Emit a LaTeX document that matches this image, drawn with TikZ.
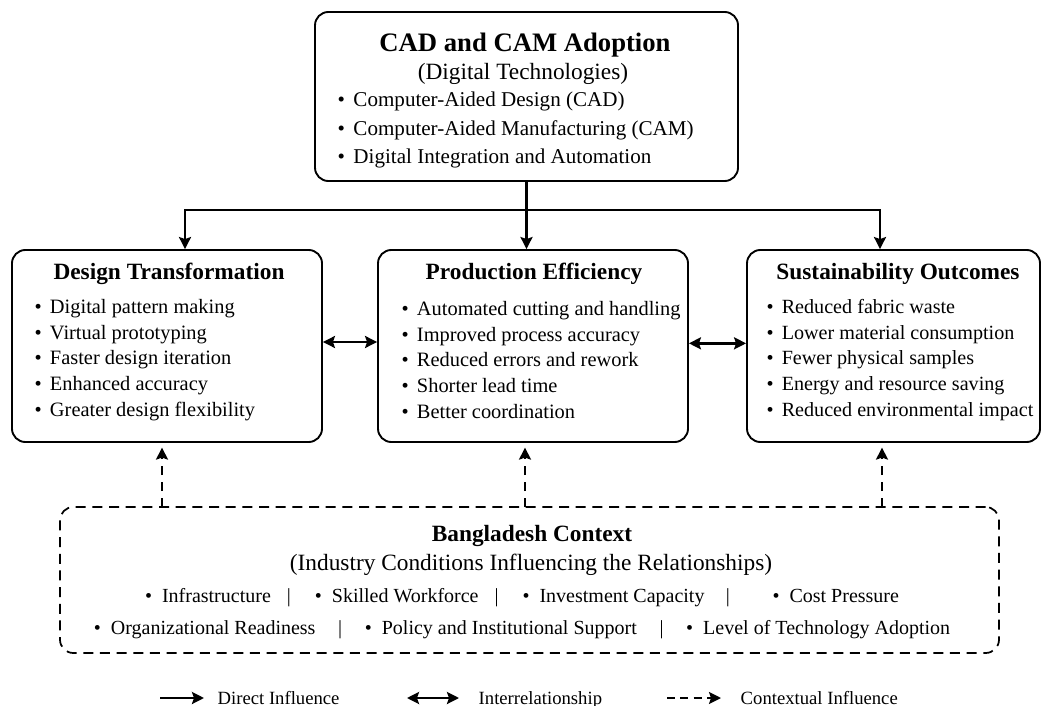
\documentclass[tikz,border=0pt]{standalone}
\usepackage{fontspec}
\setmainfont{Liberation Serif}
\usetikzlibrary{arrows.meta}
\usetikzlibrary{positioning}
\tikzstyle{block}=[draw,rounded corners=10pt,line width=1.4pt,inner sep=0pt]
\tikzstyle{ctxblock}=[block,line width=1.3pt,dash pattern=on 7.5pt off 5pt]
\tikzstyle{head}=[font=\fontsize{17.5}{21}\selectfont\bfseries]
\tikzstyle{items}=[align=left,anchor=west,font=\fontsize{15.3}{19.4}\selectfont]
\tikzstyle{direct}=[line width=1.8pt,-{Stealth[length=9pt,width=9pt,inset=1.5pt]}]
\tikzstyle{both}=[line width=1.8pt,{Stealth[length=9pt,width=9pt,inset=1.5pt]}-{Stealth[length=9pt,width=9pt,inset=1.5pt]}]
\tikzstyle{ctxarrow}=[line width=1.5pt,dash pattern=on 7pt off 5pt,-{Stealth[length=9pt,width=9pt,inset=1.5pt]}]
\newcommand{\bul}{\textbullet\hspace{0.4em}}

\begin{document}
\begin{tikzpicture}[x=0.75pt,y=-0.75pt]
	\useasboundingbox[fill=white] (0,0) rectangle (1042,706);
	% boxes
	\node[block,minimum width=317.25pt,minimum height=126.75pt] (cad) at (526.5,96.5) {};
	\node[block,minimum width=232.5pt,minimum height=144pt] (design) at (167,346) {};
	\node[block,minimum width=232.5pt,minimum height=144pt] (prod) at (533,346) {};
	\node[block,minimum width=219.75pt,minimum height=144pt] (sust) at (893.5,346) {};
	\node[ctxblock,minimum width=704.25pt,minimum height=109.5pt] (ctx) at (529.5,580) {};
	% top box text
	\node[font=\fontsize{20}{24}\selectfont\bfseries] (cadtitle) at (525,45) {CAD and CAM Adoption};
	\node[font=\fontsize{17.5}{21}\selectfont] (cadsub) at (523,74) {(Digital Technologies)};
	\node[items,font=\fontsize{15.8}{21.4}\selectfont] (cadlist) at (333,130) {\bul Computer-Aided Design (CAD)\\
		\bul Computer-Aided Manufacturing (CAM)\\
		\bul Digital Integration and Automation};
	% middle row text
	\node[head] (designtitle) at (169,274) {Design Transformation};
	\node[items] (designlist) at (30,360) {\bul Digital pattern making\\
		\bul Virtual prototyping\\
		\bul Faster design iteration\\
		\bul Enhanced accuracy\\
		\bul Greater design flexibility};
	\node[head] (prodtitle) at (534,274) {Production Efficiency};
	\node[items] (prodlist) at (397,360) {\bul Automated cutting and handling\\
		\bul Improved process accuracy\\
		\bul Reduced errors and rework\\
		\bul Shorter lead time\\
		\bul Better coordination};
	\node[head] (susttitle) at (898,274) {Sustainability Outcomes};
	\node[items,font=\fontsize{15.1}{19.4}\selectfont] (sustlist) at (762,360) {\bul Reduced fabric waste\\
		\bul Lower material consumption\\
		\bul Fewer physical samples\\
		\bul Energy and resource saving\\
		\bul Reduced environmental impact};
	% context box text
	\node[head] (ctxtitle) at (532,536) {Bangladesh Context};
	\node[font=\fontsize{17.5}{21}\selectfont] (ctxsub) at (531,565) {(Industry Conditions Influencing the Relationships)};
	\node[font=\fontsize{15}{20}\selectfont] (ctxline1) at (522,598) {\textbullet\hspace{0.5em}Infrastructure\hspace{12pt}|\hspace{18pt}\textbullet\hspace{0.5em}Skilled Workforce\hspace{12pt}|\hspace{18pt}\textbullet\hspace{0.5em}Investment Capacity\hspace{16pt}|\hspace{32pt}\textbullet\hspace{0.5em}Cost Pressure};
	\node[font=\fontsize{15}{20}\selectfont] (ctxline2) at (522,630) {\textbullet\hspace{0.5em}Organizational Readiness\hspace{17pt}|\hspace{17pt}\textbullet\hspace{0.5em}Policy and Institutional Support\hspace{17pt}|\hspace{17pt}\textbullet\hspace{0.5em}Level of Technology Adoption};
	% connectors
	\coordinate (jl) at (185,210);
	\coordinate (jr) at (880,210);
	\draw[direct] (cad.south) -- (cad.south |- prod.north);
	\draw[direct] (cad.south |- jl) -- (jl) -- (jl |- design.north);
	\draw[direct] (cad.south |- jr) -- (jr) -- (jr |- sust.north);
	\draw[both] ([yshift=3pt]design.east) -- ([yshift=3pt]prod.west);
	\draw[both] ([yshift=2pt]prod.east) -- ([yshift=2pt]sust.west);
	\coordinate (cl) at (162,507);
	\coordinate (cm) at (525,507);
	\coordinate (cr) at (882,507);
	\draw[ctxarrow,shorten >=3.5pt] (cl) -- (cl |- design.south);
	\draw[ctxarrow,shorten >=3.5pt] (cm) -- (cm |- prod.south);
	\draw[ctxarrow,shorten >=3.5pt] (cr) -- (cr |- sust.south);
	% legend
	\coordinate (l1a) at (160,698);
	\coordinate (l1b) at (204,698);
	\coordinate (l2a) at (407,698);
	\coordinate (l2b) at (459,698);
	\coordinate (l3a) at (667,698);
	\coordinate (l3b) at (721,698);
	\draw[direct] (l1a) -- (l1b);
	\draw[both] (l2a) -- (l2b);
	\draw[ctxarrow,dash pattern=on 6pt off 4pt] (l3a) -- (l3b);
	\node[anchor=base west,font=\fontsize{14}{16}\selectfont] (leg1) at (213,704) {Direct Influence};
	\node[anchor=base west,font=\fontsize{14}{16}\selectfont] (leg2) at (474,704) {Interrelationship};
	\node[anchor=base west,font=\fontsize{14}{16}\selectfont] (leg3) at (736,704) {Contextual Influence};
\end{tikzpicture}
\end{document}
